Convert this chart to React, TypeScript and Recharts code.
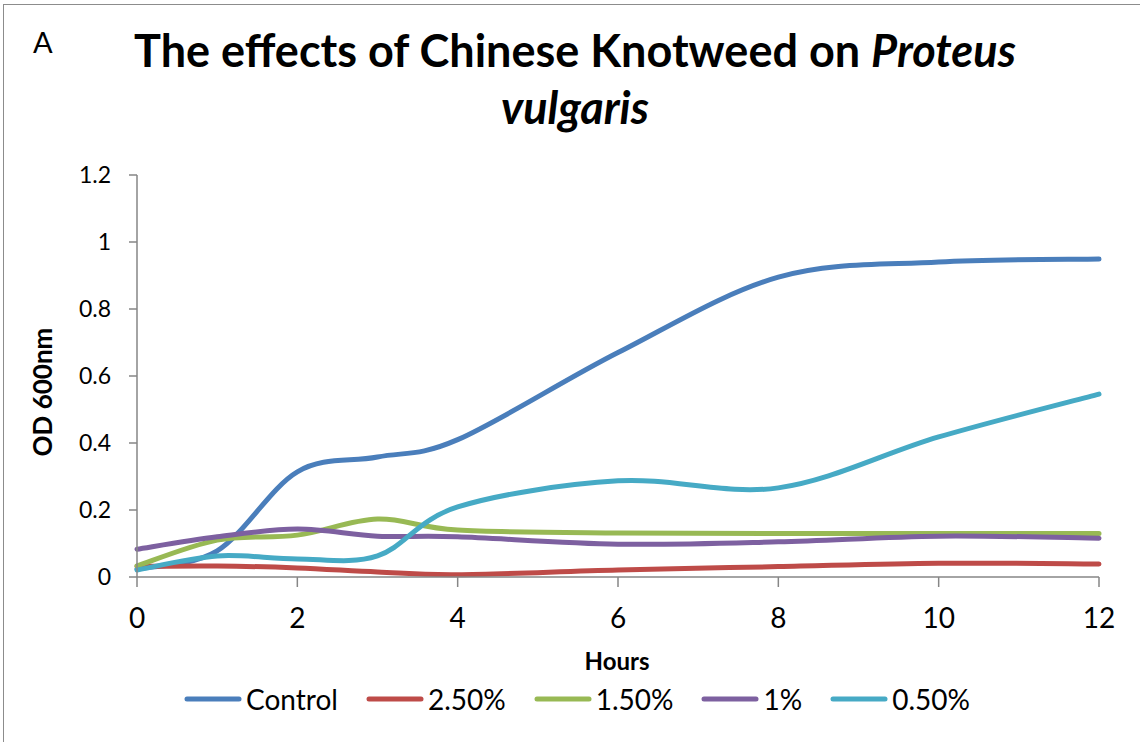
import { Legend, Line, LineChart, XAxis, YAxis } from "recharts";

const FONT = "Lato, 'Open Sans', sans-serif";

// sampling times (h) and OD600 readings per treatment
const hours = [0, 1, 2, 3, 4, 6, 8, 10, 12];
const control = [0.024, 0.078, 0.314, 0.358, 0.41, 0.67, 0.895, 0.94, 0.949];
const pct250 = [0.032, 0.033, 0.027, 0.015, 0.007, 0.021, 0.031, 0.041, 0.039];
const pct150 = [0.033, 0.11, 0.125, 0.173, 0.14, 0.131, 0.13, 0.13, 0.13];
const pct100 = [0.083, 0.12, 0.143, 0.122, 0.12, 0.098, 0.105, 0.122, 0.116];
const pct050 = [0.021, 0.063, 0.054, 0.063, 0.209, 0.287, 0.266, 0.418, 0.546];

const xTicks = [0, 2, 4, 6, 8, 10, 12];
const yTicks = [0, 0.2, 0.4, 0.6, 0.8, 1, 1.2];

const series = [
  { key: "control", name: "Control", color: "#4A7EBB" },
  { key: "p250", name: "2.50%", color: "#BE4B48" },
  { key: "p150", name: "1.50%", color: "#98B954" },
  { key: "p100", name: "1%", color: "#7D60A0" },
  { key: "p050", name: "0.50%", color: "#46AAC5" },
];

const data = hours.map((h, i) => ({
  hour: h,
  control: control[i],
  p250: pct250[i],
  p150: pct150[i],
  p100: pct100[i],
  p050: pct050[i],
}));

// Excel-style smoothed line: bezier segments with control points at 1/6 of neighbour span
function excelCurve(context: any) {
  let xs: number[] = [];
  let ys: number[] = [];
  return {
    areaStart() {},
    areaEnd() {},
    lineStart() {
      xs = [];
      ys = [];
    },
    lineEnd() {
      const n = xs.length;
      if (!n) return;
      context.moveTo(xs[0], ys[0]);
      for (let i = 0; i < n - 1; i++) {
        const a = Math.max(i - 1, 0);
        const d = Math.min(i + 2, n - 1);
        const c1x = xs[i] + (xs[i + 1] - xs[a]) / 6;
        const c1y = ys[i] + (ys[i + 1] - ys[a]) / 6;
        const c2x = xs[i + 1] - (xs[d] - xs[i]) / 6;
        const c2y = ys[i + 1] - (ys[d] - ys[i]) / 6;
        context.bezierCurveTo(c1x, c1y, c2x, c2y, xs[i + 1], ys[i + 1]);
      }
    },
    point(x: number, y: number) {
      xs.push(+x);
      ys.push(+y);
    },
  };
}

const axisStroke = { stroke: "#868686", strokeWidth: 1.5 };

function LegendRow() {
  return (
    <div
      style={{
        display: "flex",
        justifyContent: "center",
        alignItems: "center",
        gap: 28,
        fontFamily: FONT,
        fontSize: 28,
        color: "#000",
      }}
    >
      {series.map((s) => (
        <div key={s.key} style={{ display: "flex", alignItems: "center" }}>
          <svg width={58} height={8} style={{ marginRight: 4 }}>
            <line
              x1={3}
              y1={4}
              x2={55}
              y2={4}
              stroke={s.color}
              strokeWidth={5}
              strokeLinecap="round"
            />
          </svg>
          <span>{s.name}</span>
        </div>
      ))}
    </div>
  );
}

export default function App() {
  return (
    <div
      style={{
        position: "absolute",
        left: 0,
        top: 0,
        width: 1140,
        height: 742,
        background: "#fff",
        overflow: "hidden",
      }}
    >
      <div
        style={{
          position: "absolute",
          left: 3,
          top: 4,
          width: 1160,
          height: 760,
          borderLeft: "1.5px solid #8c8c8c",
          borderTop: "1.5px solid #8c8c8c",
        }}
      />
      <div
        style={{
          position: "absolute",
          left: 33,
          top: 24,
          fontFamily: FONT,
          fontSize: 29,
          lineHeight: "35px",
        }}
      >
        A
      </div>
      <div
        style={{
          position: "absolute",
          left: 0,
          top: 22,
          width: 1150,
          textAlign: "center",
          fontFamily: FONT,
          fontSize: 45,
          fontWeight: 700,
          lineHeight: "57px",
        }}
      >
        The effects of Chinese Knotweed on <i>Proteus</i>
        <br />
        <i>vulgaris</i>
      </div>
      <div
        style={{
          position: "absolute",
          left: 42,
          top: 392,
          transform: "translate(-50%, -50%) rotate(-90deg)",
          fontFamily: FONT,
          fontSize: 26,
          fontWeight: 700,
          whiteSpace: "nowrap",
        }}
      >
        OD 600nm
      </div>
      <div
        style={{
          position: "absolute",
          left: 617,
          top: 649,
          transform: "translateX(-50%)",
          fontFamily: FONT,
          fontSize: 24,
          fontWeight: 700,
          lineHeight: "24px",
        }}
      >
        Hours
      </div>
      <div style={{ position: "absolute", left: 0, top: 0 }}>
        <LineChart
          width={1140}
          height={742}
          data={data}
          margin={{ top: 175, right: 41, left: 77, bottom: 105 }}
        >
          <XAxis
            dataKey="hour"
            type="number"
            domain={[0, 12]}
            ticks={xTicks}
            interval={0}
            height={60}
            tickSize={10}
            tickMargin={21}
            axisLine={axisStroke}
            tickLine={axisStroke}
            tick={{ fill: "#000", fontSize: 28, fontFamily: FONT }}
          />
          <YAxis
            type="number"
            domain={[0, 1.2]}
            ticks={yTicks}
            interval={0}
            width={60}
            tickSize={8}
            tickMargin={18}
            axisLine={axisStroke}
            tickLine={axisStroke}
            tick={{ fill: "#000", fontSize: 23, fontFamily: FONT }}
          />
          <Legend
            layout="horizontal"
            verticalAlign="middle"
            align="center"
            wrapperStyle={{ left: 0, top: 682, width: 1154 }}
            content={() => <LegendRow />}
          />
          {series.map((s) => (
            <Line
              key={s.key}
              dataKey={s.key}
              name={s.name}
              type={excelCurve as any}
              stroke={s.color}
              strokeWidth={5}
              strokeLinecap="round"
              dot={false}
              activeDot={false}
              isAnimationActive={false}
            />
          ))}
        </LineChart>
      </div>
    </div>
  );
}
